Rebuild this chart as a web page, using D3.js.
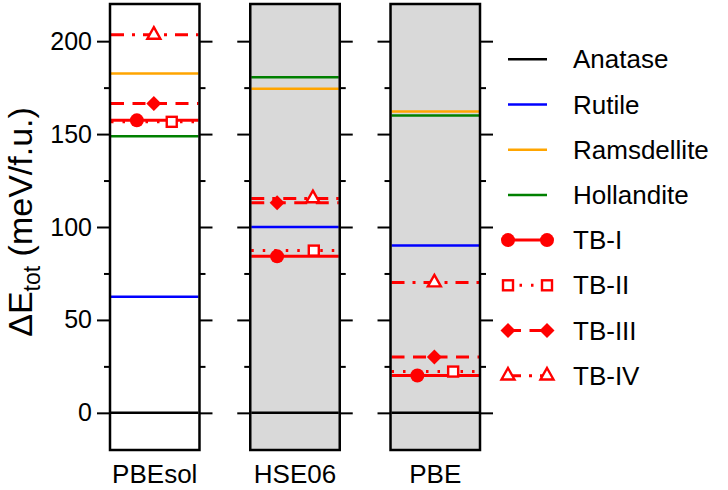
<!DOCTYPE html>
<html><head><meta charset="utf-8">
<script src="https://cdn.jsdelivr.net/npm/d3@7/dist/d3.min.js"></script>
<style>body{margin:0;background:#fff}svg{display:block}text{font-family:"Liberation Sans",Arial,Helvetica,sans-serif;fill:#000}</style>
</head><body>
<svg id="c" width="728" height="490"></svg>
<script>
// ---- data ----
const methods = ["PBEsol", "HSE06", "PBE"];
const phases = ["Anatase", "Rutile", "Ramsdellite", "Hollandite", "TB-I", "TB-II", "TB-III", "TB-IV"];
const anatase = [0, 0, 0];
const rutile = [62.5, 100, 90];
const ramsdellite = [182.6, 174.4, 162.2];
const hollandite = [148.9, 180.6, 160.0];
const tbI = [157.4, 84.2, 20.1];
const tbII = [156.6, 87.3, 22.2];
const tbIII = [166.5, 113.1, 30.1];
const tbIV = [203.4, 115.4, 70.1];
const majorTicks = [0, 50, 100, 150, 200];
const minorTicks = [25, 75, 125, 175];

// ---- style ----
const seriesValues = [anatase, rutile, ramsdellite, hollandite, tbI, tbII, tbIII, tbIV];
const colors = ["#000000", "#0000ff", "#ffa500", "#008000", "#ff0000", "#ff0000", "#ff0000", "#ff0000"];
const dashes = [null, null, null, null, null, "2.5,9", "13,8.5", "13,8,3,8"];
const widths = [2.5, 2.5, 2.5, 2.5, 3, 3, 3, 3];
const markers = [null, null, null, null, "circle", "square", "diamond", "triangle"];
// marker x-position as fraction of panel width, per panel
const markerFrac = [null, null, null, null, [0.3, 0.3, 0.3], [0.69, 0.71, 0.7], [0.49, 0.3, 0.49], [0.49, 0.7, 0.49]];
const panelFill = ["#ffffff", "#d9d9d9", "#d9d9d9"];

const svg = d3.select("#c");
const x = d3.scaleBand().domain(methods).range([110, 480]).paddingInner(0.362).paddingOuter(0);
const y = d3.scaleLinear().domain([-20, 220]).range([450, 4]);

function drawMarker(g, type, cx, cy, color) {
  if (type === "circle") {
    g.append("circle").attr("cx", cx).attr("cy", cy).attr("r", 7).attr("fill", color);
  } else if (type === "square") {
    g.append("rect").attr("x", cx - 5).attr("y", cy - 5).attr("width", 10).attr("height", 10)
      .attr("fill", "#fff").attr("stroke", color).attr("stroke-width", 2.4);
  } else if (type === "diamond") {
    const s = 7.5;
    g.append("path").attr("d", `M${cx},${cy - s}L${cx + s},${cy}L${cx},${cy + s}L${cx - s},${cy}Z`).attr("fill", color);
  } else if (type === "triangle") {
    const w = 13, h = 11.5;
    g.append("path").attr("d", `M${cx},${cy - 2 * h / 3}L${cx + w / 2},${cy + h / 3}L${cx - w / 2},${cy + h / 3}Z`)
      .attr("fill", "#fff").attr("stroke", color).attr("stroke-width", 2.4).attr("stroke-linejoin", "miter");
  }
}

methods.forEach((m, pi) => {
  const x0 = x(m), bw = x.bandwidth();
  const g = svg.append("g");
  g.append("rect").attr("x", x0).attr("y", y(220)).attr("width", bw).attr("height", y(-20) - y(220)).attr("fill", panelFill[pi]);
  seriesValues.forEach((vals, si) => {
    const ln = g.append("line").attr("x1", x0 + 1).attr("x2", x0 + bw - 1)
      .attr("y1", y(vals[pi])).attr("y2", y(vals[pi]))
      .attr("stroke", colors[si]).attr("stroke-width", widths[si]);
    if (dashes[si]) ln.attr("stroke-dasharray", dashes[si]);
  });
  seriesValues.forEach((vals, si) => {
    if (!markers[si]) return;
    drawMarker(g, markers[si], x0 + bw * markerFrac[si][pi], y(vals[pi]), colors[si]);
  });
  g.append("rect").attr("x", x0).attr("y", y(220)).attr("width", bw).attr("height", y(-20) - y(220))
    .attr("fill", "none").attr("stroke", "#000").attr("stroke-width", 2.5);
  const axL = g.append("g").attr("transform", `translate(${x0},0)`)
    .call(d3.axisLeft(y).tickValues(majorTicks).tickSize(13).tickPadding(5).tickFormat(pi === 0 ? d3.format("d") : () => ""));
  const axLm = g.append("g").attr("transform", `translate(${x0},0)`)
    .call(d3.axisLeft(y).tickValues(minorTicks).tickSize(6).tickFormat(() => ""));
  const axR = g.append("g").attr("transform", `translate(${x0 + bw},0)`)
    .call(d3.axisRight(y).tickValues(majorTicks).tickSize(13).tickFormat(() => ""));
  const axRm = g.append("g").attr("transform", `translate(${x0 + bw},0)`)
    .call(d3.axisRight(y).tickValues(minorTicks).tickSize(6).tickFormat(() => ""));
  [axL, axLm, axR, axRm].forEach(a => {
    a.select(".domain").remove();
    a.selectAll(".tick line").attr("stroke", "#000").attr("stroke-width", 2);
    a.selectAll(".tick text").attr("font-size", 25).attr("font-family", '"Liberation Sans",Arial,sans-serif').attr("fill", "#000");
  });
  g.append("text").attr("x", x0 + bw / 2).attr("y", 483).attr("text-anchor", "middle").attr("font-size", 26).text(m);
});

// y label
const yl = svg.append("text").attr("transform", "translate(32,222) rotate(-90)").attr("text-anchor", "middle").attr("font-size", 34);
yl.append("tspan").text("ΔE");
yl.append("tspan").attr("font-size", 23).attr("dy", 8).text("tot");
yl.append("tspan").attr("dy", -8).text(" (meV/f.u.)");

// legend
const ly = d3.scaleLinear().domain([0, phases.length - 1]).range([59.3, 375.7]);
phases.forEach((p, si) => {
  const g = svg.append("g");
  const cy = ly(si);
  const ln = g.append("line").attr("x1", 508).attr("x2", 547).attr("y1", cy).attr("y2", cy)
    .attr("stroke", colors[si]).attr("stroke-width", widths[si]);
  if (dashes[si]) ln.attr("stroke-dasharray", dashes[si]);
  if (markers[si]) { drawMarker(g, markers[si], 508, cy, colors[si]); drawMarker(g, markers[si], 547, cy, colors[si]); }
  g.append("text").attr("x", 573).attr("y", cy).attr("dy", "0.35em").attr("font-size", 26).text(p);
});
</script>
</body></html>
